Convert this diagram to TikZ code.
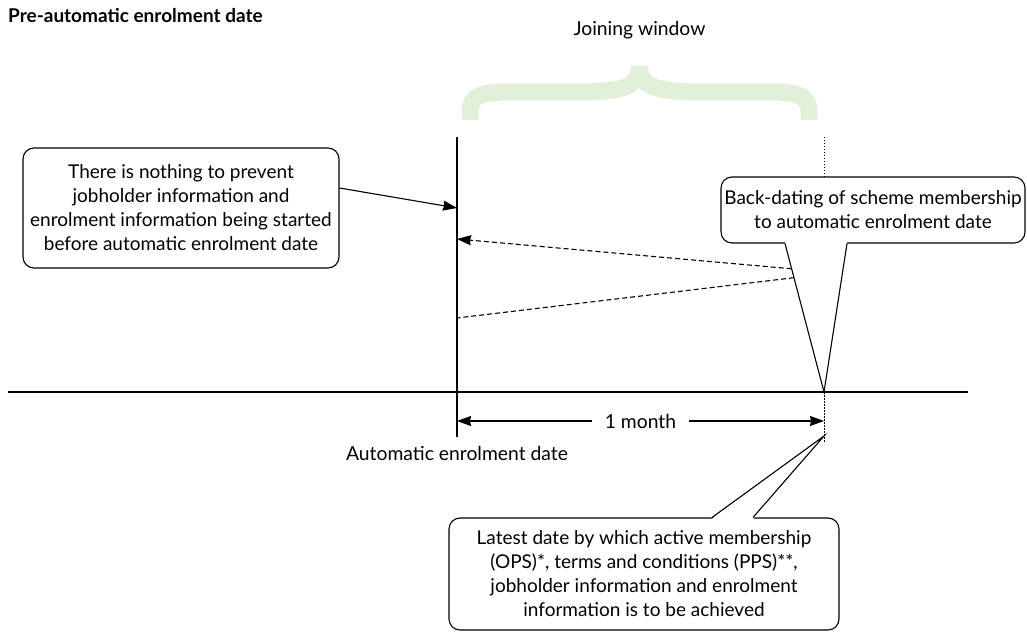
\documentclass[tikz,border=0pt]{standalone}
\usepackage{fontspec}
\setmainfont{Lato}
\usepackage{tikz}
\usetikzlibrary{arrows.meta,calc}
\definecolor{bracegreen}{RGB}{226,239,217}

\begin{document}
\begin{tikzpicture}[x=1pt, y=-1pt,
  callout/.style={draw, rounded corners=11pt, fill=white, line width=1.1pt,
                  align=center, inner sep=0pt, font=\fontsize{19}{24}\selectfont},
  arrow/.style={-{Stealth[length=14pt, width=10pt, inset=1pt]}, line width=1.1pt},
  twoway/.style={{Stealth[length=14pt, width=10pt, inset=1pt]}-{Stealth[length=14pt, width=10pt, inset=1pt]}, line width=1.1pt},
  dashedline/.style={line width=1.1pt, dash pattern=on 5pt off 3pt},
  dotline/.style={line width=0.8pt, dash pattern=on 1.5pt off 1.5pt},
  brace/.style={bracegreen, line width=17pt},
  lbl/.style={font=\fontsize{19.3}{22}\selectfont},
]
\useasboundingbox (0,0) rectangle (1027,639);

% --- Headings ---
\node[anchor=west, inner sep=0pt, font=\fontsize{19}{22}\selectfont\bfseries] (title) at (8,16) {Pre-automatic enrolment date};
\node[lbl] (window) at (639.5,30) {Joining window};

% --- Joining window brace ---
\draw[brace] (470,120) -- (470,112) .. controls (470,95) and (482,92) .. (512,92)
  -- (578,92) .. controls (625,92) and (639.5,86) .. (639.5,66);
\draw[brace] (809,120) -- (809,112) .. controls (809,95) and (797,92) .. (767,92)
  -- (701,92) .. controls (654,92) and (639.5,86) .. (639.5,66);

% --- Timeline ---
\coordinate (axis-l) at (8,392);
\coordinate (axis-r) at (968,392);
\coordinate (aed-top) at (457,137);
\coordinate (aed-bot) at (457,437);
\coordinate (due-top) at (824,137);
\coordinate (due-bot) at (824,442);
\coordinate (due) at (824,392);
\coordinate (due-tip) at (824,436);
\draw[line width=1.1pt] (axis-l) -- (axis-r);
\draw[line width=1.1pt] (aed-top) -- (aed-bot);
\draw[dotline] (due-top) -- (due-bot);

% --- One month span ---
\coordinate (month-l) at (457,421);
\coordinate (month-r) at (824,421);
\draw[twoway] (month-l) -- (month-r)
  node[midway, fill=white, inner xsep=13pt, inner ysep=1pt, lbl] (month) {1 month};
\node[lbl] (aedlabel) at (457,453) {Automatic enrolment date};

% --- Callouts ---
\node[callout, minimum width=316pt, minimum height=120pt] (note) at (181,208)
  {There is nothing to prevent\\jobholder information and\\enrolment information being started\\before automatic enrolment date};
\node[callout, minimum width=304pt, minimum height=66pt] (backdate) at (873,210)
  {Back-dating of scheme membership\\to automatic enrolment date};
\node[callout, minimum width=390pt, minimum height=112pt] (latest) at (644,574)
  {Latest date by which active membership\\(OPS)*, terms and conditions (PPS)**,\\jobholder information and enrolment\\information is to be achieved};

% --- Callout tails ---
\coordinate (bd-a) at ([xshift=-88pt]backdate.south);
\coordinate (bd-b) at ([xshift=-26pt]backdate.south);
\fill[white] ([yshift=1.5pt]bd-a) -- (due) -- ([yshift=1.5pt]bd-b) -- cycle;
\draw[line width=1.1pt] (bd-a) -- (due) -- (bd-b);
\coordinate (lt-a) at ([xshift=68pt]latest.north);
\coordinate (lt-b) at ([xshift=109pt]latest.north);
\fill[white] ([yshift=-1.5pt]lt-a) -- (due-tip) -- ([yshift=-1.5pt]lt-b) -- cycle;
\draw[line width=1.1pt] (lt-a) -- (due-tip) -- (lt-b);

% --- Arrows ---
\coordinate (aed-note) at (457,208);
\coordinate (aed-back1) at (457,239);
\coordinate (aed-back2) at (457,318);
\coordinate (back1) at ($(bd-a)!0.17!(due)$);
\coordinate (back2) at ($(bd-a)!0.23!(due)$);
\draw[arrow] ([yshift=20pt]note.east) -- (aed-note);
\draw[dashedline, -{Stealth[length=14pt, width=10pt, inset=1pt]}] (back1) -- (aed-back1);
\draw[dashedline] (back2) -- (aed-back2);
\end{tikzpicture}
\end{document}
